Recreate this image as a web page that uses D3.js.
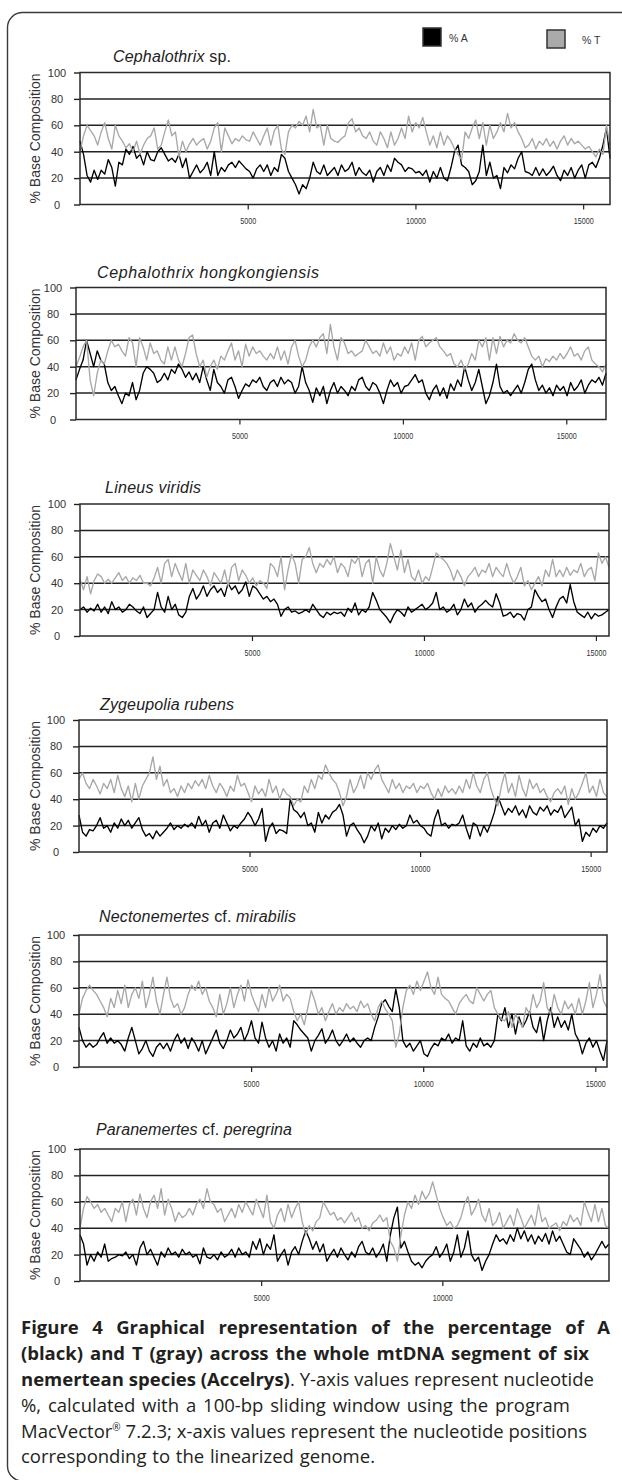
<!DOCTYPE html>
<html><head><meta charset="utf-8">
<script src="https://cdn.jsdelivr.net/npm/d3@7"></script>
<style>body{margin:0;background:#fff}svg{display:block}</style>
</head><body>
<svg id="c" width="622" height="1480"></svg>
<script>
// ---------------- DATA ----------------
const genomeLength = [15800, 16215, 15380, 15480, 15340, 14600];
const yTicks = [0, 20, 40, 60, 80, 100];
const xTicks = [5000, 10000, 15000];
const seriesNames = ["% A", "% T"];
const titleParts = [
  [["Cephalothrix", 1], [" sp.", 0]],
  [["Cephalothrix hongkongiensis", 1]],
  [["Lineus viridis", 1]],
  [["Zygeupolia rubens", 1]],
  [["Nectonemertes", 1], [" cf. ", 0], ["mirabilis", 1]],
  [["Paranemertes", 1], [" cf. ", 0], ["peregrina", 1]]
];

const A1 = [48,38,22,17,26,19,26,23,34,28,14,32,30,42,38,44,35,38,30,40,34,33,40,43,38,33,35,32,38,28,35,20,25,30,24,27,32,22,40,22,28,25,30,32,28,33,30,27,25,20,27,30,25,30,22,28,25,38,35,25,20,15,8,15,12,20,32,25,23,30,22,25,28,22,30,25,27,32,22,28,24,22,26,17,25,28,22,30,25,35,32,30,25,28,27,24,25,22,26,17,25,20,28,20,18,28,40,45,30,28,25,15,18,25,45,22,32,20,22,12,28,24,30,27,35,40,25,24,22,28,22,27,22,25,29,22,18,26,22,28,20,26,30,20,30,32,28,35,45,58,35];
const T1 = [40,52,60,56,52,45,55,62,50,42,60,52,48,43,46,40,48,38,45,50,52,58,42,45,55,64,52,55,36,48,40,46,50,45,48,50,42,48,58,62,40,58,52,46,50,48,52,49,48,55,50,45,52,58,45,56,60,42,38,55,60,58,63,60,67,55,72,58,60,45,60,50,48,47,50,52,62,65,55,58,52,50,55,48,45,55,50,43,55,45,50,58,50,67,55,62,58,66,55,45,52,43,55,45,52,48,42,38,34,55,50,58,64,50,62,45,60,50,55,62,55,69,58,62,55,50,43,45,50,42,48,45,50,44,48,42,48,52,45,50,46,48,45,42,44,40,36,42,38,60,45];
const A2 = [30,38,45,60,50,40,52,45,42,28,22,25,18,12,20,18,28,15,22,35,40,38,35,28,30,35,30,38,35,42,38,32,36,30,35,28,40,30,22,38,28,25,20,30,32,25,16,22,27,25,30,28,32,25,22,28,30,25,32,27,30,28,20,25,40,28,22,13,24,18,25,12,22,28,20,25,22,18,25,22,30,32,25,22,28,26,20,12,22,30,25,28,20,25,26,30,34,28,30,20,15,22,26,18,24,16,27,22,30,25,40,30,22,28,38,25,12,18,28,42,25,20,22,18,22,26,20,28,38,42,30,22,26,20,24,18,26,22,25,18,28,22,25,30,20,26,30,28,32,26,35];
const T2 = [40,47,55,60,30,18,35,45,42,52,60,55,57,52,48,62,58,40,62,55,45,58,50,52,45,42,55,45,55,45,40,50,62,64,50,40,45,32,40,45,38,48,45,52,58,45,52,40,57,48,55,50,52,48,45,50,46,55,45,52,42,55,60,48,40,45,55,60,55,62,65,50,72,55,45,62,58,50,52,48,50,52,60,55,50,52,48,58,50,55,45,50,48,55,50,58,45,60,63,55,58,60,62,55,52,48,50,42,40,45,38,42,50,45,60,55,62,45,62,50,63,55,60,58,65,60,58,62,55,48,45,48,40,46,44,48,45,50,46,50,55,48,50,45,52,55,45,42,40,36,42];
const A3 = [20,22,18,21,19,24,18,22,17,26,20,22,18,20,24,22,19,17,22,14,17,20,33,22,18,30,20,24,16,14,18,30,36,28,32,38,30,35,38,33,36,30,40,35,38,32,35,41,30,38,36,32,28,30,26,28,24,15,20,22,18,19,17,18,20,18,24,20,16,14,18,16,18,17,18,15,21,18,25,16,20,18,22,33,27,20,17,14,10,16,20,18,15,22,18,20,22,24,20,22,25,33,20,22,18,20,24,16,20,28,22,25,18,22,24,27,24,22,32,25,15,16,18,14,17,16,12,20,22,35,30,26,28,20,14,22,28,30,25,39,26,18,16,14,18,13,17,15,16,18,20];
const T3 = [43,35,45,32,42,47,45,40,43,40,44,48,42,45,40,44,42,46,40,40,38,44,52,40,55,58,45,55,48,42,55,40,50,46,42,50,45,38,48,44,40,50,38,52,55,42,50,46,40,44,38,42,40,36,55,52,45,60,35,50,62,55,40,58,60,67,55,48,55,52,58,54,60,48,55,52,45,58,55,60,45,55,58,40,60,50,45,55,70,60,50,65,48,58,45,42,50,40,45,42,52,63,60,58,55,50,42,50,45,38,45,48,52,45,50,48,55,45,52,48,45,55,46,40,45,52,38,42,35,40,45,38,50,45,58,45,50,45,52,46,50,48,55,45,50,52,42,63,55,60,52];
const A4 = [28,15,12,17,16,20,26,18,20,15,22,18,25,20,24,18,22,26,17,12,14,10,16,12,15,18,22,17,20,18,21,19,22,18,27,20,24,15,22,24,18,28,22,16,20,18,22,25,30,26,20,25,33,8,18,22,14,17,16,14,40,32,30,26,30,20,22,15,30,22,28,25,30,32,36,28,12,20,22,17,13,7,12,20,16,22,10,18,15,20,17,21,18,20,28,22,24,20,18,14,12,25,32,20,22,18,21,20,22,28,18,10,22,20,12,20,15,22,30,42,35,28,33,30,35,28,32,26,35,30,28,34,31,35,28,32,30,35,26,30,34,20,25,8,15,12,18,15,20,18,22];
const T4 = [55,60,52,48,55,50,44,52,48,55,45,58,48,42,50,38,52,40,50,55,60,72,55,65,50,55,45,48,42,50,45,52,48,54,50,55,48,58,50,45,52,48,42,50,46,58,50,52,45,38,50,44,48,42,55,45,50,40,48,44,42,35,40,38,50,45,55,48,58,55,66,60,55,52,45,35,42,55,45,50,58,48,60,55,62,66,55,50,45,55,48,52,45,50,48,52,45,50,48,52,45,40,48,42,50,45,48,44,50,45,55,48,60,50,45,55,60,48,40,35,50,60,45,52,42,58,48,42,55,48,52,45,48,42,38,45,48,44,50,36,48,40,45,52,60,45,50,42,55,45,42];
const A5 = [30,20,15,18,15,17,22,26,18,22,18,20,17,12,22,30,20,10,14,20,12,8,15,18,14,18,12,20,25,18,22,14,22,18,12,20,10,16,22,28,18,14,20,28,22,25,30,20,26,35,22,18,34,22,15,20,12,25,18,22,15,35,32,28,25,22,12,20,24,29,18,22,28,20,16,20,25,19,22,18,15,20,22,20,30,38,48,51,46,42,59,45,20,15,18,12,16,20,10,8,14,18,16,22,20,25,18,22,20,35,16,12,18,15,22,16,18,15,20,40,35,45,30,40,25,38,30,35,42,30,26,38,20,35,45,30,38,30,35,28,40,25,20,10,18,22,15,20,12,5,20];
const T5 = [40,52,58,62,58,55,50,45,38,52,45,58,48,62,45,55,60,52,65,45,55,68,50,40,55,68,52,45,48,40,45,55,62,58,65,55,60,50,45,38,55,40,48,60,45,55,62,50,66,55,48,42,55,45,60,50,55,62,50,55,52,42,35,40,32,45,58,50,40,45,35,42,48,40,45,42,48,44,46,42,50,45,48,40,35,45,50,44,40,35,15,25,45,58,62,55,65,58,65,72,60,55,68,55,52,50,45,40,48,52,55,50,48,60,55,50,55,58,45,40,36,35,42,30,40,35,30,45,40,55,45,50,64,45,40,55,45,40,50,44,48,40,52,40,50,64,45,55,70,50,45];
const A6 = [35,28,12,20,15,22,18,28,15,17,18,20,19,22,17,20,12,25,30,20,24,18,12,22,18,25,20,22,18,24,20,22,18,20,13,25,18,17,20,16,22,18,20,24,18,25,20,22,18,30,24,32,20,28,24,35,15,20,24,12,22,26,20,30,38,32,24,30,22,28,15,20,24,18,25,20,16,22,18,26,30,22,20,25,18,22,28,15,35,48,56,25,30,22,15,12,14,10,15,18,20,26,18,22,28,15,22,35,18,25,38,20,15,18,8,15,20,28,35,30,32,28,35,30,40,32,38,30,35,28,34,30,36,28,38,30,34,28,22,20,32,28,24,18,22,16,20,25,30,25,28];
const T6 = [40,55,64,60,55,58,52,55,50,45,55,52,60,45,58,62,50,66,55,48,60,65,55,70,50,62,55,45,52,48,50,55,50,58,62,55,70,60,58,52,55,45,50,55,48,58,52,60,55,50,62,55,48,65,45,40,50,55,45,58,48,55,60,45,35,42,38,45,48,60,55,50,52,46,48,44,48,52,45,48,40,42,38,44,46,50,45,48,30,25,15,35,50,60,55,65,58,68,62,66,75,65,55,48,42,45,40,42,48,58,64,50,55,62,50,45,55,42,45,52,40,45,50,42,55,48,40,45,50,42,58,45,48,40,42,44,38,45,42,50,45,48,42,60,52,45,58,45,55,42,40];

const seriesA = [A1, A2, A3, A4, A5, A6];
const seriesT = [T1, T2, T3, T4, T5, T6];

const captionLines = [
  [["Figure 4 Graphical representation of the percentage of A", "b"]],
  [["(black) and T (gray) across the whole mtDNA segment of six", "b"]],
  [["nemertean species (Accelrys)", "b"], [". Y-axis values represent nucleotide", "r"]],
  [["%, calculated with a 100-bp sliding window using the program", "r"]],
  [["MacVector", "r"], ["®", "sup"], [" 7.2.3; x-axis values represent the nucleotide positions", "r"]],
  [["corresponding to the linearized genome.", "r"]]
];

// ---------------- LAYOUT ----------------
const panelTop = [72.5, 287.5, 504, 720, 935, 1149];
const plotH = 132;
const plotLeft = [80, 76, 80, 79, 79, 80];
const plotRight = [610, 606, 609, 607, 607, 609];
const titleX = [113, 97, 105, 100, 99, 96];
const titleBase = [61.5, 277.5, 492.5, 710, 921.5, 1134.5];
const titleW = [118, 222, 96, 134, 197, 196];
const capX = 21, capBase = [1334, 1360, 1386, 1411.5, 1437.5, 1463];
const capW = [589, 568, 573, 549, 566, 354];
const chartFont = "'Liberation Sans', Arial, Helvetica, sans-serif";
const capFont = "'Open Sans', 'Noto Sans', sans-serif";

const svg = d3.select("#c");

// outer rounded frame
svg.append("path")
  .attr("d", "M622,12.5 H22.5 A15,15 0 0 0 7.5,27.5 V1466 A15,15 0 0 0 22.5,1481")
  .attr("fill", "none").attr("stroke", "#3a3a3a").attr("stroke-width", 1.4);

// legend
const legend = svg.append("g").attr("font-family", chartFont).attr("font-size", 10.5).attr("fill", "#333");
const legendItems = [
  {name: seriesNames[0], fill: "#000", bx: 423, by: 28, tx: 449},
  {name: seriesNames[1], fill: "#aaaaaa", bx: 547, by: 30, tx: 582}
];
legendItems.forEach(d => {
  legend.append("rect").attr("x", d.bx).attr("y", d.by).attr("width", 18).attr("height", 18)
    .attr("fill", d.fill).attr("stroke", "#333").attr("stroke-width", 1.5);
  legend.append("text").attr("x", d.tx).attr("y", d.by + 14).text(d.name);
});

function fitWidth(sel, w) {
  const node = sel.node();
  const len = node.getComputedTextLength();
  const n = node.textContent.length;
  if (n > 1) sel.attr("letter-spacing", ((w - len) / (n - 1)).toFixed(3));
}
function fitWords(sel, w) {
  const node = sel.node();
  const len = node.getComputedTextLength();
  const spaces = (node.textContent.match(/ /g) || []).length;
  if (spaces > 0) sel.attr("word-spacing", ((w - len) / spaces).toFixed(3));
}

for (let i = 0; i < 6; i++) {
  const top = panelTop[i], bottom = top + plotH;
  const L = plotLeft[i], R = plotRight[i];
  const x = d3.scaleLinear().domain([0, genomeLength[i]]).range([L, R]);
  const y = d3.scaleLinear().domain([0, 100]).range([bottom, top]);
  const g = svg.append("g");

  // title
  const tt = g.append("text").attr("x", titleX[i]).attr("y", titleBase[i])
    .attr("font-family", chartFont).attr("font-size", 16).attr("fill", "#222");
  titleParts[i].forEach(p => tt.append("tspan").attr("font-style", p[1] ? "italic" : "normal").text(p[0]));
  fitWidth(tt, titleW[i]);

  // y axis (ticks + labels)
  const yAxis = d3.axisLeft(y).tickValues(yTicks).tickSize(6).tickPadding(9).tickSizeOuter(0);
  const ya = g.append("g").attr("transform", `translate(${L},0)`).call(yAxis);
  ya.select(".domain").remove();
  ya.selectAll("line").attr("stroke", "#222").attr("stroke-width", 1.4);
  ya.selectAll("text").attr("font-family", chartFont).attr("font-size", 11).attr("fill", "#333")
    .attr("text-anchor", "middle").attr("x", -23);

  // x axis ticks + labels
  const xv = xTicks.filter(v => v <= genomeLength[i]);
  const xAxis = d3.axisBottom(x).tickValues(xv).tickSize(5).tickPadding(8).tickSizeOuter(0).tickFormat(d3.format("d"));
  const xa = g.append("g").attr("transform", `translate(0,${bottom})`).call(xAxis);
  xa.select(".domain").remove();
  xa.selectAll("line").attr("stroke", "#222").attr("stroke-width", 1.2);
  xa.selectAll("text").attr("font-family", chartFont).attr("font-size", 9.5).attr("fill", "#333")
    .attr("textLength", d => String(d).length * 4).attr("lengthAdjust", "spacingAndGlyphs");

  // gridlines
  g.append("g").selectAll("line").data(yTicks.filter(v => v > 0 && v < 100)).join("line")
    .attr("x1", L).attr("x2", R).attr("y1", d => y(d)).attr("y2", d => y(d))
    .attr("stroke", "#222").attr("stroke-width", 1.5);

  // y title
  g.append("text").attr("transform", `translate(40,${(top + bottom) / 2}) rotate(-90)`)
    .attr("text-anchor", "middle").attr("font-family", chartFont).attr("font-size", 14).attr("fill", "#333")
    .text("% Base Composition");

  // series
  const mk = arr => arr.map((v, j) => [j * genomeLength[i] / (arr.length - 1), v]);
  const line = d3.line().x(d => x(d[0])).y(d => y(d[1])).curve(d3.curveLinear);
  g.append("path").datum(mk(seriesA[i])).attr("d", line).attr("fill", "none")
    .attr("stroke", "#000").attr("stroke-width", 1.35).attr("stroke-linejoin", "round");
  g.append("path").datum(mk(seriesT[i])).attr("d", line).attr("fill", "none")
    .attr("stroke", "#a8a8a8").attr("stroke-width", 1.35).attr("stroke-linejoin", "round");

  // plot frame
  g.append("rect").attr("x", L).attr("y", top).attr("width", R - L).attr("height", plotH)
    .attr("fill", "none").attr("stroke", "#2a2a2a").attr("stroke-width", 1.5);
}

// caption
captionLines.forEach((parts, k) => {
  const t = svg.append("text").attr("x", capX).attr("y", capBase[k])
    .attr("font-family", capFont).attr("font-size", 18.5).attr("fill", "#231f20");
  parts.forEach(p => {
    const s = t.append("tspan").text(p[0]);
    if (p[1] === "b") s.attr("font-weight", 700);
    if (p[1] === "sup") s.attr("font-size", 10).attr("dy", -7);
    if (p[1] === "r" && parts.some(q => q[1] === "sup") && parts.indexOf(p) > 0) s.attr("dy", 7);
  });
  fitWords(t, capW[k]);
});
</script>
</body></html>
